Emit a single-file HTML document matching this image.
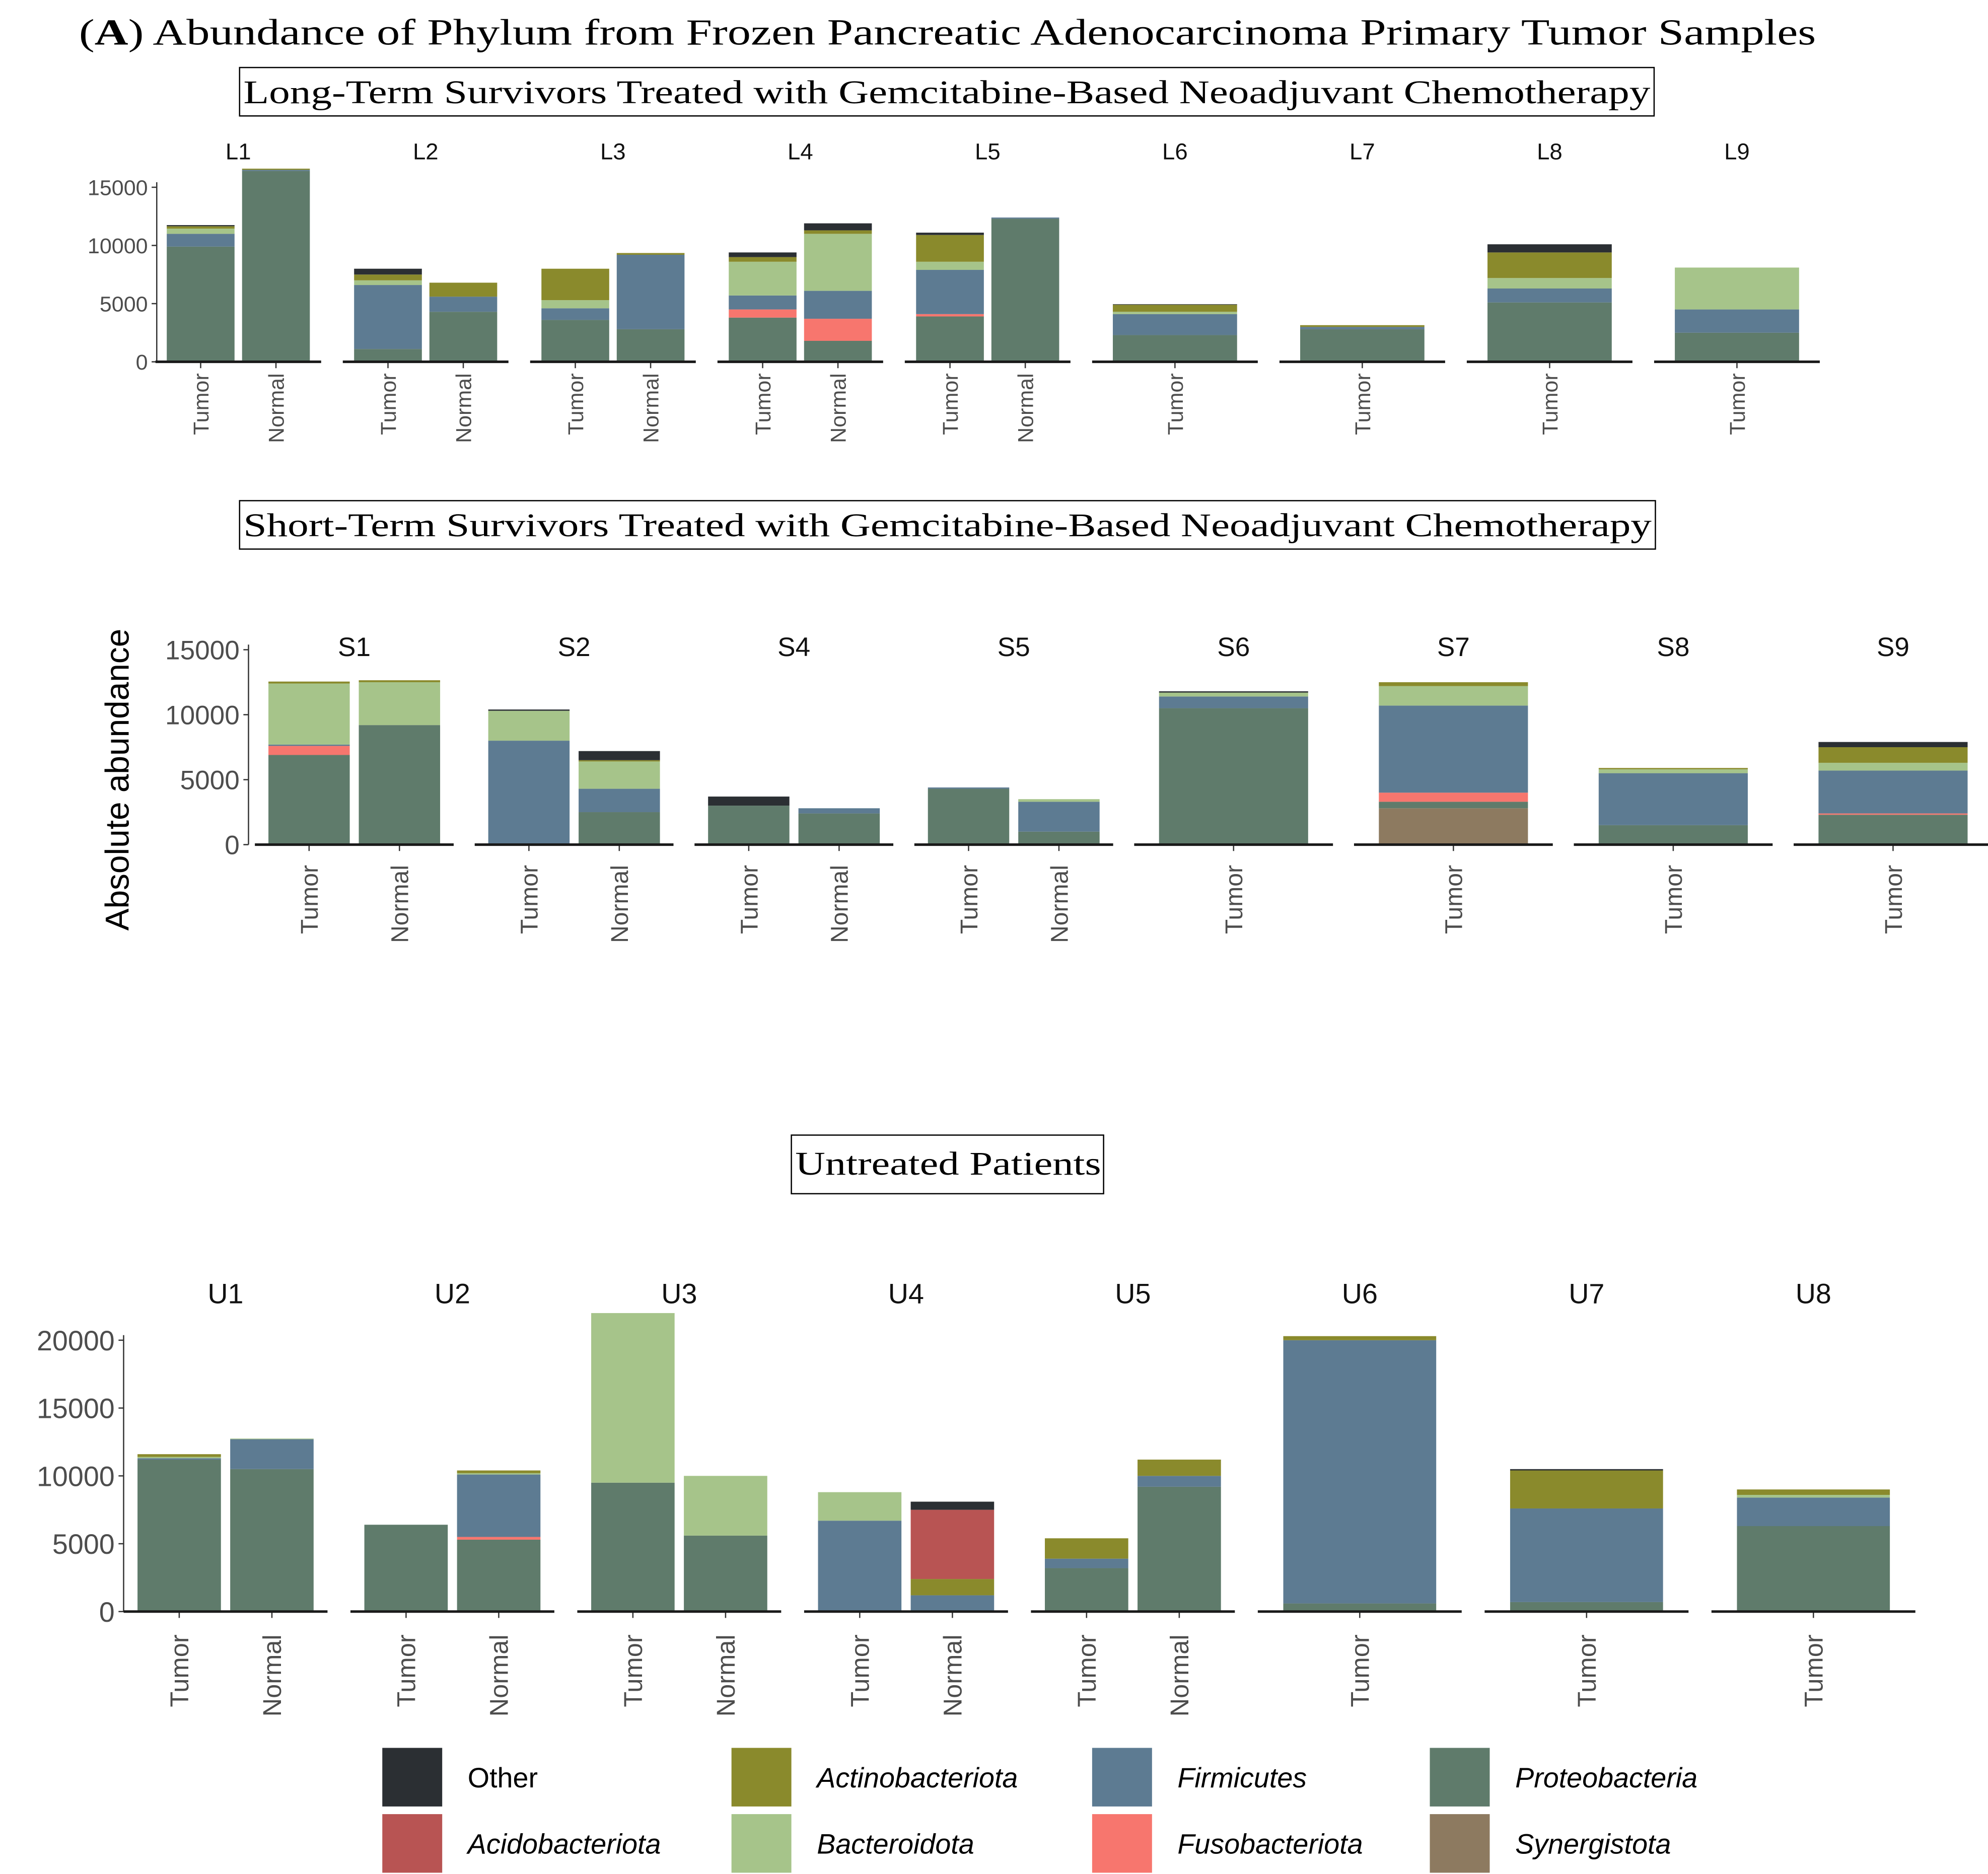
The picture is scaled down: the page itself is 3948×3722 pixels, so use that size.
<!DOCTYPE html>
<html><head><meta charset="utf-8"><style>
html,body{margin:0;padding:0;background:#fff;}
svg{display:block;}
</style></head><body>
<svg id="chart" width="3948" height="3722" viewBox="0 0 1560 1471" preserveAspectRatio="none" xmlns="http://www.w3.org/2000/svg">
<text x="62" y="35" textLength="1363" lengthAdjust="spacingAndGlyphs" font-family="Liberation Serif, serif" font-size="29" fill="#000">(<tspan font-weight="bold">A</tspan>) Abundance of Phylum from Frozen Pancreatic Adenocarcinoma Primary Tumor Samples</text>
<rect x="188" y="53" width="1110" height="38" fill="none" stroke="#000" stroke-width="1"/>
<text x="191" y="81" textLength="1104" lengthAdjust="spacingAndGlyphs" font-family="Liberation Serif, serif" font-size="26">Long-Term Survivors Treated with Gemcitabine-Based Neoadjuvant Chemotherapy</text>
<rect x="188" y="393" width="1111" height="38" fill="none" stroke="#000" stroke-width="1"/>
<text x="191" y="421" textLength="1105" lengthAdjust="spacingAndGlyphs" font-family="Liberation Serif, serif" font-size="26">Short-Term Survivors Treated with Gemcitabine-Based Neoadjuvant Chemotherapy</text>
<rect x="621" y="891" width="245" height="46" fill="none" stroke="#000" stroke-width="1"/>
<text x="624" y="922" textLength="240" lengthAdjust="spacingAndGlyphs" font-family="Liberation Serif, serif" font-size="26">Untreated Patients</text>
<text transform="translate(101,612) rotate(-90)" text-anchor="middle" font-family="Liberation Sans, sans-serif" font-size="26" fill="#000">Absolute abundance</text>
<g id="plots"></g>
<g id="legend"></g>
</svg>
<script>
// Phyla order: Other, Acidobacteriota, Actinobacteriota, Bacteroidota, Firmicutes, Fusobacteriota, Proteobacteria, Synergistota
const phyla = ["Other","Acidobacteriota","Actinobacteriota","Bacteroidota","Firmicutes","Fusobacteriota","Proteobacteria","Synergistota"];
const colors = ["#2b2f33","#b85453","#8a8a2c","#a6c48a","#5d7b92","#f7766e","#5f7b6b","#8d7a60"];

const row1Patients = ["L1","L2","L3","L4","L5","L6","L7","L8","L9"];
const row1Samples = [["Tumor","Normal"],["Tumor","Normal"],["Tumor","Normal"],["Tumor","Normal"],["Tumor","Normal"],["Tumor"],["Tumor"],["Tumor"],["Tumor"]];
const row1Values = [
 [[100,0,200,450,1100,0,9900,0],[0,0,100,0,100,0,16400,0]],
 [[500,0,500,400,5500,0,1100,0],[0,0,1200,0,1300,0,4300,0]],
 [[0,0,2700,700,1000,0,3600,0],[0,0,150,0,6400,0,2800,0]],
 [[400,0,400,2900,1200,700,3800,0],[600,0,300,4900,2400,1900,1800,0]],
 [[200,0,2300,700,3800,200,3900,0],[0,0,0,0,100,0,12300,0]],
 [[50,0,600,200,1800,0,2300,0]],
 [[0,0,150,0,200,0,2800,0]],
 [[700,0,2200,900,1200,0,5100,0]],
 [[0,0,0,3600,2000,0,2500,0]]
];
const row1Ticks = [0,5000,10000,15000];

const row2Patients = ["S1","S2","S4","S5","S6","S7","S8","S9"];
const row2Samples = [["Tumor","Normal"],["Tumor","Normal"],["Tumor","Normal"],["Tumor","Normal"],["Tumor"],["Tumor"],["Tumor"],["Tumor"]];
const row2Values = [
 [[0,0,150,4700,100,700,6900,0],[0,0,150,3300,0,0,9200,0]],
 [[100,0,0,2300,8000,0,0,0],[700,0,100,2100,1800,0,2500,0]],
 [[700,0,0,0,0,0,3000,0],[0,0,0,0,400,0,2400,0]],
 [[0,0,0,0,100,0,4300,0],[0,0,0,200,2300,0,1000,0]],
 [[100,0,0,300,900,0,10500,0]],
 [[0,0,300,1500,6700,700,500,2800]],
 [[0,0,100,300,4000,0,1500,0]],
 [[400,0,1200,600,3300,100,2300,0]]
];
const row2Ticks = [0,5000,10000,15000];

const row3Patients = ["U1","U2","U3","U4","U5","U6","U7","U8"];
const row3Samples = [["Tumor","Normal"],["Tumor","Normal"],["Tumor","Normal"],["Tumor","Normal"],["Tumor","Normal"],["Tumor"],["Tumor"],["Tumor"]];
const row3Values = [
 [[0,0,200,100,100,0,11200,0],[0,0,0,50,2200,0,10500,0]],
 [[0,0,0,0,0,0,6400,0],[0,0,200,100,4600,200,5300,0]],
 [[0,0,0,12500,0,0,9500,0],[0,0,0,4400,0,0,5600,0]],
 [[0,0,0,2100,6700,0,0,0],[600,5100,1200,0,1200,0,0,0]],
 [[0,0,1500,0,700,0,3200,0],[0,0,1200,0,800,0,9200,0]],
 [[0,0,300,0,19400,0,600,0]],
 [[100,0,2800,0,6900,0,700,0]],
 [[0,0,400,200,2100,0,6300,0]]
];
const row3Ticks = [0,5000,10000,15000,20000];

const NS = "http://www.w3.org/2000/svg";
const plots = document.getElementById("plots");
function mk(tag, attrs, parent){
  const e = document.createElementNS(NS, tag);
  for (const k in attrs) e.setAttribute(k, attrs[k]);
  (parent||plots).appendChild(e);
  return e;
}

function drawRow(cfg, patients, samples, values, ticks){
  const yScale = v => cfg.base - (v/cfg.refVal)*(cfg.base - cfg.refY);
  const axis = mk("line",{x1:cfg.axisX,x2:cfg.axisX,y1:yScale(ticks[ticks.length-1])-4,y2:cfg.base,stroke:"#333","stroke-width":1});
  
  
  ticks.forEach(t=>{
    const tk = mk("line",{x1:cfg.axisX-4,x2:cfg.axisX,y1:yScale(t),y2:yScale(t),stroke:"#333","stroke-width":1});
    
    
    const tl = mk("text",{x:cfg.axisX-7,y:yScale(t)+cfg.tickFont*0.36,"text-anchor":"end","font-family":"Liberation Sans, sans-serif","font-size":cfg.tickFont,fill:"#4d4d4d"});
    tl.textContent = t;
    
    
  });
  patients.forEach((p,i)=>{
    const c = cfg.c0 + cfg.sp*i;
    const hw = cfg.hw;
    const fl = mk("text",{x:c,y:cfg.facetY,"text-anchor":"middle","font-family":"Liberation Sans, sans-serif","font-size":cfg.facetFont,fill:"#111"});
    fl.textContent = p;
    
    
    const n = samples[i].length;
    const unit = (2*hw)/(n+0.2);
    const bw = unit*0.9;
    samples[i].forEach((s,j)=>{
      const bx = c - hw + unit*(0.6+j);
      let cum = 0;
      for (let k=phyla.length-1;k>=0;k--){
        const v = values[i][j][k];
        if (!v) continue;
        const y0 = yScale(cum), y1 = yScale(cum+v);
        const r = mk("rect",{x:bx-bw/2,y:y1,width:bw,height:y0-y1,fill:colors[k]});
        
        
        cum += v;
      }
      const tm = mk("line",{x1:bx,x2:bx,y1:cfg.base,y2:cfg.base+5,stroke:"#333","stroke-width":1});
      
      
      const lbl = mk("text",{transform:`translate(${bx+cfg.labFont*0.36},${cfg.labY}) rotate(-90)`,"text-anchor":"end","font-family":"Liberation Sans, sans-serif","font-size":cfg.labFont,fill:"#4d4d4d"});
      lbl.textContent = s;
      
      
    });
    const bl = mk("line",{x1:c-hw,x2:c+hw,y1:cfg.base,y2:cfg.base,stroke:"#1a1a1a","stroke-width":2});
    
    
  });
}

drawRow({id:"long-term",base:284,refY:147,refVal:15000,axisX:123,c0:187,sp:147,hw:65,facetY:125,facetFont:18,tickFont:17,labFont:17,labY:293},row1Patients,row1Samples,row1Values,row1Ticks);
drawRow({id:"short-term",base:663,refY:510,refVal:15000,axisX:195,c0:278,sp:172.5,hw:78,facetY:515,facetFont:21,tickFont:21,labFont:19,labY:679},row2Patients,row2Samples,row2Values,row2Ticks);
drawRow({id:"untreated",base:1265,refY:1052,refVal:20000,axisX:97,c0:177,sp:178,hw:80,facetY:1023,facetFont:22,tickFont:22,labFont:20,labY:1283},row3Patients,row3Samples,row3Values,row3Ticks);

const legend = document.getElementById("legend");
const legendCols = [300,574,857,1122];
phyla.forEach((p,k)=>{
  const col = Math.floor(k/2), row = k%2;
  const x = legendCols[col], y = 1372 + row*52;
  const sw = mk("rect",{x:x,y:y,width:47,height:46,fill:colors[k]},legend);
  
  
  const t = mk("text",{x:x+67,y:y+31,"font-family":"Liberation Sans, sans-serif","font-size":22,fill:"#000","font-style":p==="Other"?"normal":"italic"},legend);
  t.textContent = p;
  
  
});
</script>
</body></html>
